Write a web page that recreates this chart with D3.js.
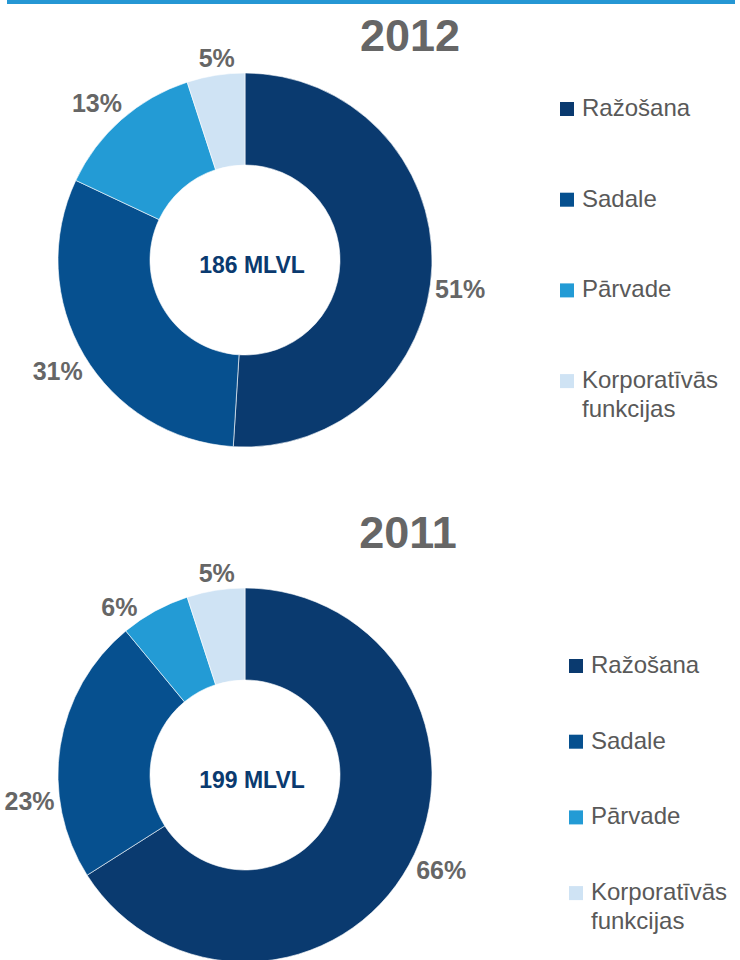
<!DOCTYPE html>
<html>
<head>
<meta charset="utf-8">
<script src="https://cdn.jsdelivr.net/npm/d3@7"></script>
<style>
  body { margin: 0; background: #fff; }
  svg { display: block; font-family: "Liberation Sans", Arial, sans-serif; }
</style>
</head>
<body>
<div id="chart"></div>
<script>
// data
var categories = ["Ražošana", "Sadale", "Pārvade", "Korporatīvās funkcijas"];
var years = ["2012", "2011"];
var values2012 = [51, 31, 13, 5];
var values2011 = [66, 23, 6, 5];
var totals = ["186 MLVL", "199 MLVL"];

var colors = ["#0a3a6f", "#06508f", "#239bd5", "#cfe3f4"];

var svgWidth = 740, svgHeight = 960;
var outerR = 187, innerR = 95;

var svg = d3.select("#chart")
  .append("svg")
  .attr("width", svgWidth)
  .attr("height", svgHeight);

// blue rule at the top
svg.append("rect")
  .attr("x", 7).attr("y", 0)
  .attr("width", 728).attr("height", 4)
  .attr("fill", "#2597d4");

// layout of each doughnut (label nudges are in degrees)
var charts = [
  { year: years[0], values: values2012, total: totals[0], cx: 245, cy: 260,
    titleX: 410, titleY: 51, legendX: 560, legendY: 116, legendStep: 90.7,
    nudge: [6, 0, -2, 1] },
  { year: years[1], values: values2011, total: totals[1], cx: 245, cy: 775,
    titleX: 408, titleY: 548, legendX: 569, legendY: 673, legendStep: 75.7,
    nudge: [-3, -16, -8, 1] }
];

var pie = d3.pie().sort(null).value(d => d);
var arc = d3.arc().innerRadius(innerR).outerRadius(outerR);
var color = d3.scaleOrdinal().domain(categories).range(colors);

charts.forEach(function(c) {
  var g = svg.append("g")
    .attr("transform", `translate(${c.cx}, ${c.cy})`);

  var arcs = pie(c.values);

  g.selectAll("path")
    .data(arcs)
    .enter()
    .append("path")
    .attr("d", arc)
    .attr("fill", (d, i) => color(categories[i]))
    .attr("stroke", "#ffffff")
    .attr("stroke-width", 0.6);

  // percent labels outside the ring
  g.selectAll("text.pct")
    .data(arcs)
    .enter()
    .append("text")
    .attr("class", "pct")
    .attr("text-anchor", "middle")
    .attr("dy", "0.35em")
    .style("font-size", "25px")
    .style("font-weight", "bold")
    .style("fill", "#666666")
    .text(d => d.data + "%")
    .each(function(d, i) {
      var w = this.getComputedTextLength();
      var a = (d.startAngle + d.endAngle) / 2 + c.nudge[i] * Math.PI / 180;
      var dx = Math.sin(a), dy = -Math.cos(a);
      var dist = outerR + 4 + Math.abs(dx) * w / 2 + Math.abs(dy) * 10;
      d3.select(this)
        .attr("x", dx * dist)
        .attr("y", dy * dist);
    });

  // total in the hole
  g.append("text")
    .attr("x", 7)
    .attr("y", 13)
    .attr("text-anchor", "middle")
    .style("font-size", "23px")
    .style("font-weight", "bold")
    .style("fill", "#0a3a6f")
    .text(c.total);

  // year title
  svg.append("text")
    .attr("x", c.titleX)
    .attr("y", c.titleY)
    .attr("text-anchor", "middle")
    .style("font-size", "45px")
    .style("font-weight", "bold")
    .style("fill", "#666666")
    .text(c.year);

  // legend
  var legend = svg.append("g");
  categories.forEach(function(cat, i) {
    var y = c.legendY + i * c.legendStep;
    legend.append("rect")
      .attr("x", c.legendX)
      .attr("y", y - 14)
      .attr("width", 14)
      .attr("height", 14)
      .attr("fill", color(cat));

    var words = cat.split(" ");
    var t = legend.append("text")
      .attr("x", c.legendX + 22)
      .attr("y", y)
      .style("font-size", "24px")
      .style("fill", "#595959");
    words.forEach(function(wd, j) {
      t.append("tspan")
        .attr("x", c.legendX + 22)
        .attr("dy", j === 0 ? 0 : 29)
        .text(wd);
    });
  });
});
</script>
</body>
</html>
